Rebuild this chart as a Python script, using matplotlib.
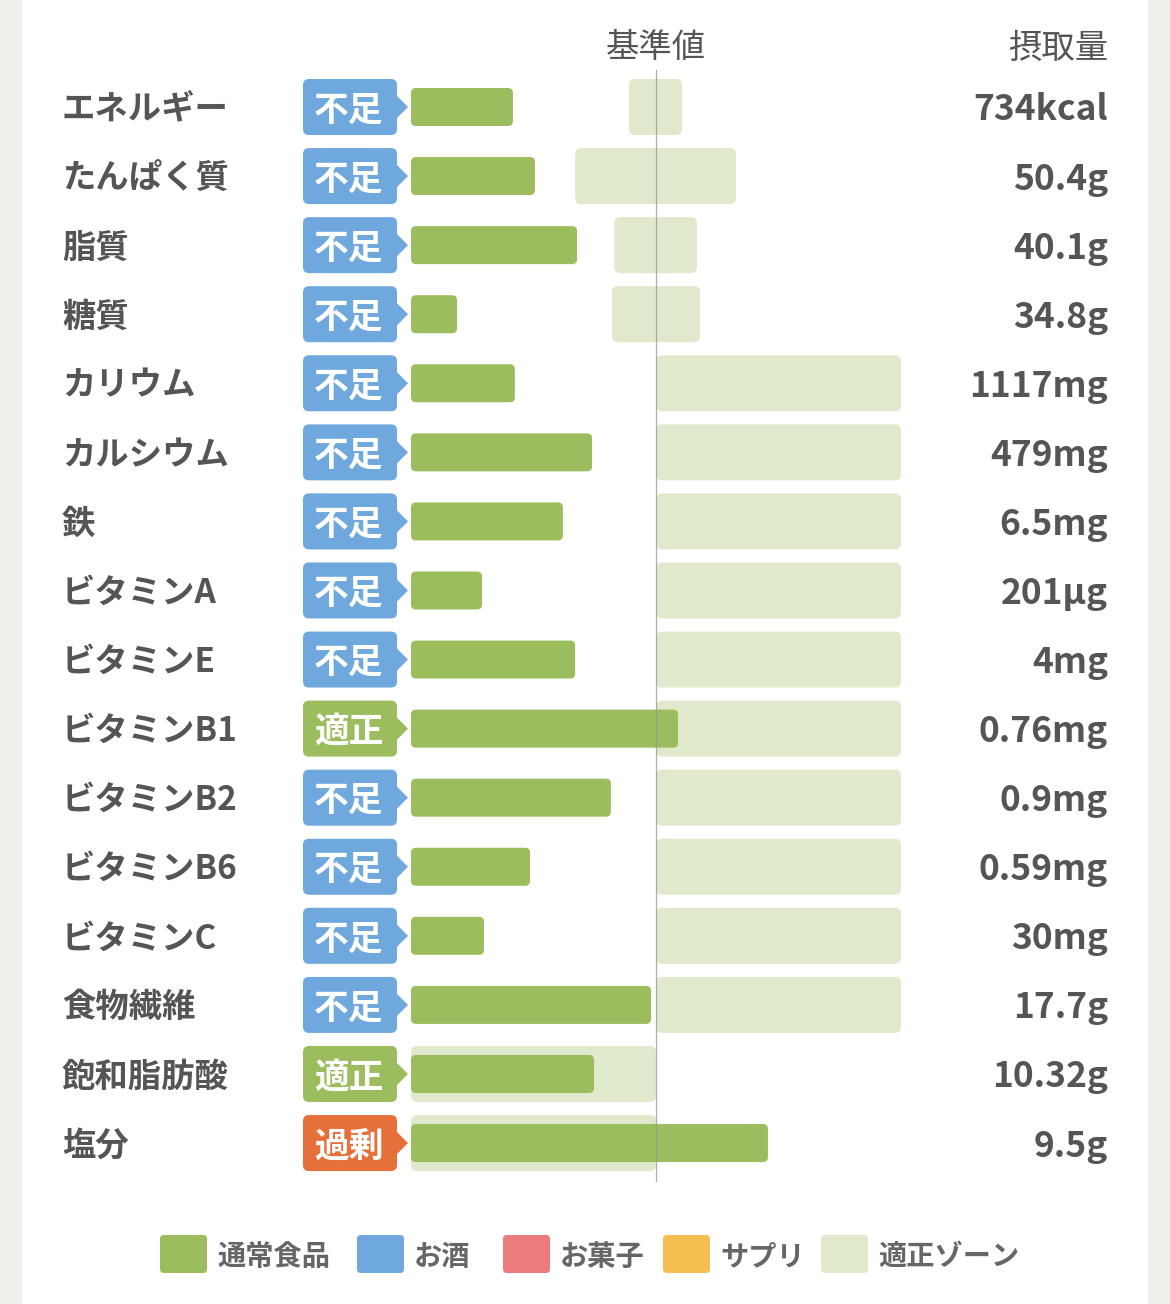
import matplotlib
matplotlib.use("Agg")
import matplotlib.pyplot as plt
from matplotlib.patches import FancyBboxPatch, Polygon, Rectangle

plt.rcParams['font.family'] = ['Noto Sans CJK JP', 'DejaVu Sans']

# ---- data (bar lengths in % of the reference value) ----
nutrients = ["エネルギー", "たんぱく質", "脂質", "糖質", "カリウム", "カルシウム", "鉄",
             "ビタミンA", "ビタミンE", "ビタミンB1", "ビタミンB2", "ビタミンB6", "ビタミンC",
             "食物繊維", "飽和脂肪酸", "塩分"]
status = ["不足", "不足", "不足", "不足", "不足", "不足", "不足", "不足", "不足",
          "適正", "不足", "不足", "不足", "不足", "適正", "過剰"]
intake_pct = [41.6, 50.6, 67.8, 18.8, 42.4, 73.9, 62.0, 29.0, 67.0,
              109.0, 81.6, 48.6, 29.8, 98.0, 74.7, 145.7]
zone_low = [89.0, 67.0, 83.0, 82.0, 100, 100, 100, 100, 100,
            100, 100, 100, 100, 100, 0, 0]
zone_high = [110.6, 132.7, 116.7, 118.0, 200, 200, 200, 200, 200,
             200, 200, 200, 200, 200, 100, 100]
intake_text = ["734kcal", "50.4g", "40.1g", "34.8g", "1117mg", "479mg", "6.5mg",
               "201µg", "4mg", "0.76mg", "0.9mg", "0.59mg", "30mg", "17.7g",
               "10.32g", "9.5g"]
legend_labels = ["通常食品", "お酒", "お菓子", "サプリ", "適正ゾーン"]

# ---- style ----
C_BAR = "#9cbd5e"
C_ZONE = "#e1e9cc"
C_TEXT = "#555555"
badge_colors = {"不足": "#6fa8dc", "適正": "#9cbd5e", "過剰": "#e6703a"}
legend_colors = [C_BAR, "#6fa8dc", "#ec7b7b", "#f4bf50", C_ZONE]

W, H = 1170, 1304
X0 = 411.0          # pixel where 0% sits
PXU = 2.45          # pixels per percent
Y0 = 107.0          # pixel centre of first row
ROW = 69.07         # pixels per row
ASP = PXU / ROW     # keeps rounded corners round
TOFF = 3 / ROW      # small downward nudge for text


def dx(px):
    return (px - X0) / PXU


def dy(py):
    return (py - Y0) / ROW


fig = plt.figure(figsize=(W / 100, H / 100), dpi=100)
fig.patch.set_facecolor("#efeeea")
ax = fig.add_axes([0, 0, 1, 1])
ax.set_facecolor("none")
ax.set_xlim(dx(0), dx(W))
ax.set_ylim(dy(H), dy(0))
ax.axis("off")
# white card
ax.add_patch(Rectangle((22 / W, 0), (1148 - 22) / W, 1, transform=ax.transAxes,
                       facecolor="white", edgecolor="none", zorder=0))


def rbox(x, y, w, h, r_px, color, z):
    p = FancyBboxPatch((x, y), w, h, boxstyle="round,pad=0,rounding_size=%f" % (r_px / PXU),
                       mutation_aspect=ASP, facecolor=color, edgecolor="none", zorder=z)
    ax.add_patch(p)


zone_h = 56 / ROW
bar_h = 38 / ROW
for i, name in enumerate(nutrients):
    # appropriate zone
    rbox(zone_low[i], i - zone_h / 2, zone_high[i] - zone_low[i], zone_h, 6, C_ZONE, 1)
    # intake bar
    rbox(0, i - bar_h / 2, intake_pct[i], bar_h, 5, C_BAR, 2)
    # status badge with arrow
    bc = badge_colors[status[i]]
    rbox(dx(303), i - zone_h / 2, dx(397) - dx(303), zone_h, 6, bc, 3)
    ax.add_patch(Polygon([(dx(396), i - 12 / ROW), (dx(408), i), (dx(396), i + 12 / ROW)],
                         closed=True, facecolor=bc, edgecolor="none", zorder=3))
    ax.text(dx(349), i + TOFF, status[i], color="white", fontsize=25, fontweight="bold",
            ha="center", va="center", zorder=4)
    ax.text(dx(62), i + TOFF, name, color=C_TEXT, fontsize=24, fontweight="bold",
            ha="left", va="center")
    ax.text(dx(1108), i + TOFF, intake_text[i], color=C_TEXT, fontsize=25.5, fontweight="bold",
            ha="right", va="center")

# reference line
ax.plot([100, 100], [dy(70), dy(1181)], color="#9a9a9a", lw=0.9, alpha=0.8, zorder=5)

ax.text(100, dy(45) + TOFF, "基準値", color=C_TEXT, fontsize=24, ha="center", va="center")
ax.text(dx(1108), dy(45) + TOFF, "摂取量", color=C_TEXT, fontsize=24, ha="right", va="center")

# legend
leg_x = [160, 357, 503, 663, 821]
ly = dy(1254)
for lx, lab, col in zip(leg_x, legend_labels, legend_colors):
    rbox(dx(lx), ly - 19 / ROW, 47 / PXU, 38 / ROW, 4, col, 2)
    ax.text(dx(lx + 57), ly + TOFF, lab, color="#666666", fontsize=20.3, fontweight="bold",
            ha="left", va="center")

fig.savefig("out.png", dpi=100, facecolor=fig.get_facecolor())
